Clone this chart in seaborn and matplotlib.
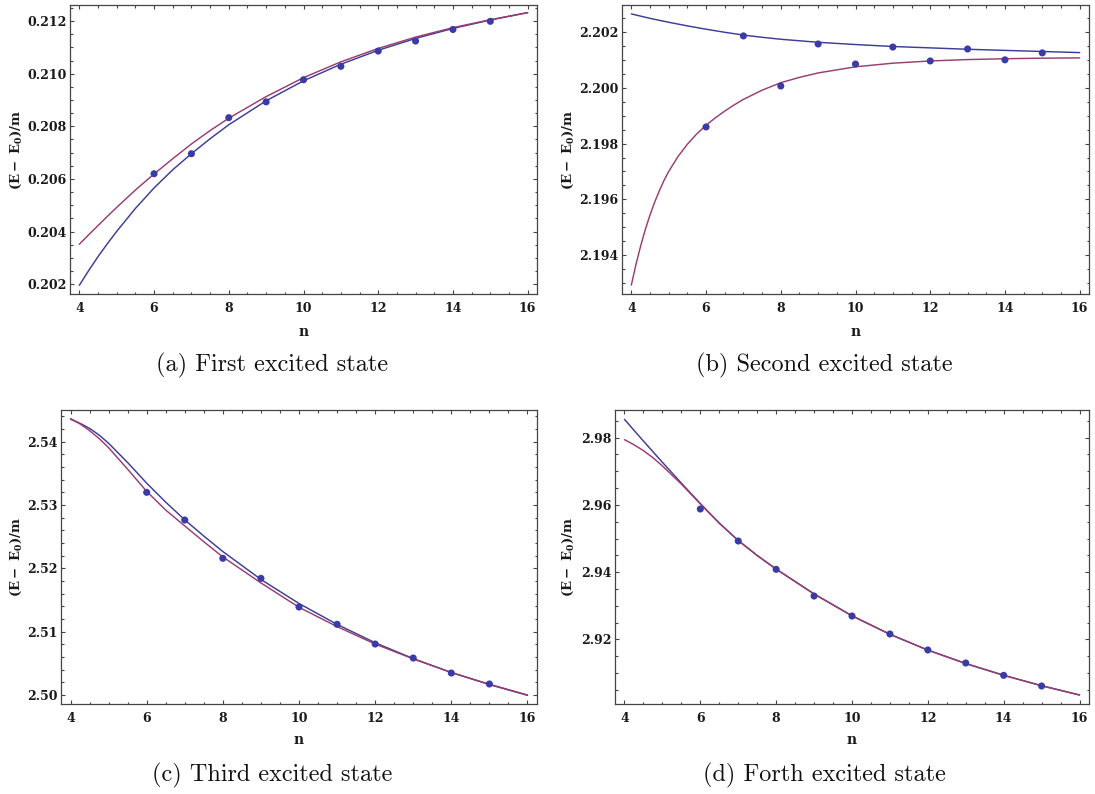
import matplotlib
matplotlib.use("Agg")
import matplotlib.pyplot as plt
import seaborn as sns
from matplotlib.ticker import MultipleLocator, FormatStrFormatter

# ---------------------------------------------------------------- data
# lattice sizes with computed energy gaps
n_pts = [6, 7, 8, 9, 10, 11, 12, 13, 14, 15]

# abscissae at which the extrapolation fits are tabulated
n_fit = [4, 4.25, 4.5, 4.75, 5, 5.5, 6, 6.5, 7, 7.5, 8,
         9, 10, 11, 12, 13, 14, 15, 16]
# the steep fit of the second state is tabulated more densely
n_fit_fine = [4, 4.125, 4.25, 4.375, 4.5, 4.625, 4.75, 4.875, 5, 5.25,
              5.5, 5.75, 6, 6.25, 6.5, 6.75, 7, 7.5, 8, 8.5, 9, 10, 11,
              12, 13, 14, 15, 16]

# (a) first excited state
gap1_pts = [0.20620, 0.20696, 0.20833, 0.20893, 0.20977,
            0.21028, 0.21086, 0.21124, 0.21168, 0.21199]
gap1_fit_blue = [0.20196, 0.20252, 0.20305, 0.20354, 0.20401, 0.20488,
                 0.20566, 0.20635, 0.20696, 0.20753, 0.20806, 0.20897,
                 0.20973, 0.21036, 0.21089, 0.21134, 0.21172, 0.21204,
                 0.21232]
gap1_fit_red = [0.20352, 0.20388, 0.20423, 0.20458, 0.20492, 0.20558,
                0.20619, 0.20677, 0.20733, 0.20784, 0.20831, 0.20913,
                0.20985, 0.21045, 0.21096, 0.21139, 0.21175, 0.21205,
                0.21232]

# (b) second excited state
gap2_pts = [2.19860, 2.20187, 2.20007, 2.20158, 2.20086,
            2.20147, 2.20097, 2.20140, 2.20101, 2.20126]
gap2_fit_blue = [2.20266, 2.20258, 2.20250, 2.20243, 2.20236, 2.20223,
                 2.20211, 2.20200, 2.20190, 2.20182, 2.20175, 2.20164,
                 2.20156, 2.20149, 2.20144, 2.20139, 2.20135, 2.20131,
                 2.20127]
gap2_fit_red = [2.19292, 2.19367, 2.19433, 2.19492, 2.19544, 2.19590,
                2.19631, 2.19668, 2.19700, 2.19754, 2.19798, 2.19835,
                2.19866, 2.19893, 2.19917, 2.19939, 2.19959, 2.19992,
                2.20019, 2.20038, 2.20054, 2.20076, 2.20089, 2.20097,
                2.20102, 2.20105, 2.20107, 2.20108]

# (c) third excited state
gap3_pts = [2.53200, 2.52763, 2.52158, 2.51842, 2.51389,
            2.51116, 2.50805, 2.50584, 2.50347, 2.50174]
gap3_fit_blue = [2.54355, 2.54290, 2.54210, 2.54105, 2.53975, 2.53670,
                 2.53345, 2.53045, 2.52765, 2.52510, 2.52265, 2.51825,
                 2.51445, 2.51115, 2.50825, 2.50575, 2.50355, 2.50165,
                 2.49995]
gap3_fit_red = [2.54365, 2.54280, 2.54175, 2.54050, 2.53905, 2.53565,
                2.53215, 2.52920, 2.52670, 2.52420, 2.52180, 2.51770,
                2.51385, 2.51080, 2.50805, 2.50570, 2.50355, 2.50170,
                2.50000]

# (d) fourth excited state
gap4_pts = [2.95878, 2.94926, 2.94083, 2.93289, 2.92694,
            2.92159, 2.91683, 2.91296, 2.90929, 2.90612]
gap4_fit_blue = [2.98546, 2.98221, 2.97900, 2.97583, 2.97268, 2.96648,
                 2.96040, 2.95460, 2.94940, 2.94495, 2.94090, 2.93350,
                 2.92700, 2.92150, 2.91680, 2.91280, 2.90930, 2.90620,
                 2.90344]
gap4_fit_red = [2.97941, 2.97790, 2.97615, 2.97405, 2.97160, 2.96620,
                2.96030, 2.95455, 2.94940, 2.94495, 2.94090, 2.93350,
                2.92700, 2.92150, 2.91680, 2.91280, 2.90930, 2.90620,
                2.90344]

captions = ["(a) First excited state", "(b) Second excited state",
            "(c) Third excited state", "(d) Forth excited state"]
y_major = [0.002, 0.002, 0.01, 0.02]
y_minor = [0.0005, 0.0005, 0.002, 0.005]
y_format = ["%.3f", "%.3f", "%.2f", "%.2f"]
y_limits = [(0.20163, 0.21261), (2.19260, 2.20298),
            (2.49858, 2.54500), (2.90076, 2.98824)]

# ---------------------------------------------------------------- style
sns.set_theme(style="ticks")
plt.rcParams["font.family"] = ["DejaVu Serif", "DejaVu Sans"]

BLUE = "#3d3d99"
RED = "#993d72"
DOT = "#3b3ba6"
FRAME = "#444444"

W, H = 1095, 794
fig = plt.figure(figsize=(W / 100, H / 100), dpi=100)

# axes boxes in pixels: left, right, top, bottom
boxes = [(70, 537, 5, 294), (622, 1089, 5, 294),
         (61, 537, 410, 704), (615, 1089, 410, 704)]
ylabel_x = [16, 568, 16, 568]
xlabel_y = [331.5, 331.5, 740.5, 740.5]
caption_xy = [(272, 365), (824, 365), (272, 775), (824, 775)]

series = [(gap1_pts, n_fit, gap1_fit_blue, n_fit, gap1_fit_red),
          (gap2_pts, n_fit, gap2_fit_blue, n_fit_fine, gap2_fit_red),
          (gap3_pts, n_fit, gap3_fit_blue, n_fit, gap3_fit_red),
          (gap4_pts, n_fit, gap4_fit_blue, n_fit, gap4_fit_red)]

for i, (pts, nb, fit_blue, nr, fit_red) in enumerate(series):
    l, r, t, b = boxes[i]
    ax = fig.add_axes([l / W, (H - b) / H, (r - l) / W, (b - t) / H])

    sns.lineplot(x=nb, y=fit_blue, ax=ax, color=BLUE, lw=1.05,
                 estimator=None, sort=False)
    sns.lineplot(x=nr, y=fit_red, ax=ax, color=RED, lw=1.05,
                 estimator=None, sort=False)
    sns.scatterplot(x=n_pts, y=pts, ax=ax, color=DOT, s=26,
                    edgecolor="none", linewidth=0, zorder=3)

    ax.set_xlim(3.75, 16.25)
    ax.set_ylim(*y_limits[i])
    ax.xaxis.set_major_locator(MultipleLocator(2))
    ax.xaxis.set_minor_locator(MultipleLocator(0.5))
    ax.yaxis.set_major_locator(MultipleLocator(y_major[i]))
    ax.yaxis.set_minor_locator(MultipleLocator(y_minor[i]))
    ax.yaxis.set_major_formatter(FormatStrFormatter(y_format[i]))

    ax.tick_params(which="both", direction="in", top=True, right=True,
                   color=FRAME, width=0.8)
    ax.tick_params(which="major", length=3.0)
    ax.tick_params(which="minor", length=1.8)
    ax.tick_params(axis="x", which="major", pad=6)
    ax.tick_params(axis="y", which="major", pad=2.5)
    for lab in ax.get_xticklabels() + ax.get_yticklabels():
        lab.set_fontfamily("DejaVu Serif")
        lab.set_fontweight("bold")
        lab.set_fontsize(9)
        lab.set_color("#1a1a1a")
    for sp in ax.spines.values():
        sp.set_color(FRAME)
        sp.set_linewidth(0.9)

    ax.set_xlabel("n", fontfamily="DejaVu Serif", fontweight="bold",
                  fontsize=10, color="#1a1a1a")
    ax.xaxis.label.set_va("center")
    ax.xaxis.set_label_coords(0.5, -(xlabel_y[i] - b) / (b - t))

    ax.set_ylabel(r"$\mathbf{(E-\ E_0)/m}$", math_fontfamily="dejavuserif",
                  fontsize=9.5, color="#1a1a1a")
    ax.yaxis.label.set_va("center")
    ax.yaxis.set_label_coords((ylabel_x[i] - l) / (r - l), 0.5)

    cx, cy = caption_xy[i]
    fig.text(cx / W, 1 - cy / H, captions[i], fontfamily="cmr10",
             fontsize=17.5, ha="center", va="center", color="#111111")

fig.savefig("out.png", dpi=100)
